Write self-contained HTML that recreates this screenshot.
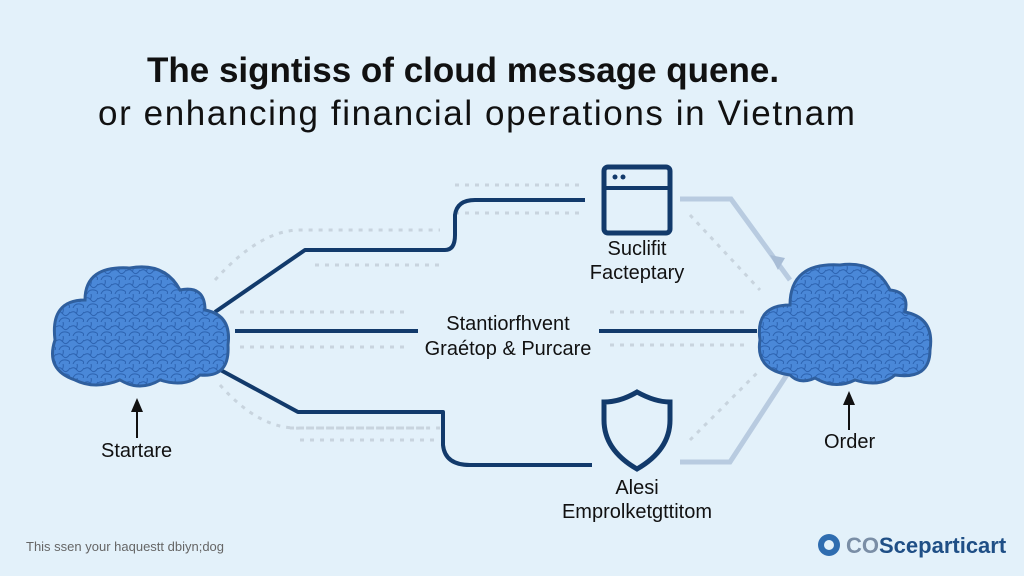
<!DOCTYPE html>
<html><head><meta charset="utf-8"><style>
html,body{margin:0;padding:0}
body{width:1024px;height:576px;background:#e3f1fa;overflow:hidden;position:relative;font-family:"Liberation Sans",sans-serif}
.t{position:absolute;white-space:nowrap;color:#111}
</style></head><body>
<svg width="1024" height="576" style="position:absolute;left:0;top:0">
<defs>
<pattern id="cr" width="14" height="14" patternUnits="userSpaceOnUse">
<rect width="14" height="14" fill="#4a88d8"/>
<path d="M0 5 Q4 2 7 6 T14 4 M3 14 Q5 9 10 10 T13 14 M7 0 Q8 3 6 6" stroke="#2d63b0" stroke-width="1" fill="none"/>
</pattern>
</defs>
<g stroke="#c8d4de" stroke-width="3" fill="none" stroke-dasharray="4 6">
<path d="M215 280 Q260 230 300 230 L440 230"/>
<path d="M315 265 L440 265"/>
<path d="M240 312 L410 312"/><path d="M240 347 L410 347"/>
<path d="M220 385 Q260 430 300 428 L440 428"/>
<path d="M290 428 L430 428"/>
<path d="M300 440 L440 440"/>
<path d="M610 312 L750 312"/><path d="M610 345 L750 345"/>
<path d="M690 215 L760 290"/><path d="M690 440 L760 370"/>
<path d="M455 185 L585 185"/><path d="M455 213 L585 213"/>
</g>
<g stroke="#123a6b" stroke-width="4" fill="none" stroke-linejoin="round">
<path d="M215 312 L305 250 L445 250 Q455 250 455 235 L455 215 Q457 200 475 200 L585 200"/>
<path d="M235 331 L418 331"/>
<path d="M599 331 L757 331"/>
<path d="M215 367 L298 412 L443 412 L443 445 Q445 465 470 465 L592 465"/>
</g>
<g stroke="#b8cbe0" stroke-width="5" fill="none">
<path d="M680 199 L731 199 L790 280"/>
<path d="M680 462 L730 462 L790 370"/>
</g>
<path d="M770 255 L785 258 L778 270Z" fill="#a8bdd6"/>
<g fill="url(#cr)" stroke="#2f5f9e" stroke-width="3">
<path d="M75 380 Q45 370 55 340 Q50 300 85 300 Q85 265 130 268 Q165 262 180 290 Q205 285 205 310 Q232 315 228 345 Q230 378 200 375 Q185 388 160 380 Q140 392 120 380 Q95 390 75 380Z"/>
<path d="M790 375 Q755 370 760 340 Q755 305 790 305 Q790 262 840 265 Q875 260 890 290 Q910 292 905 312 Q935 318 930 350 Q930 380 895 375 Q880 388 855 380 Q835 390 815 378 Q800 385 790 375Z"/>
</g>
<rect x="604" y="167" width="66" height="66" rx="4" fill="none" stroke="#123a6b" stroke-width="5"/>
<line x1="604" y1="188" x2="670" y2="188" stroke="#123a6b" stroke-width="4"/>
<circle cx="615" cy="177" r="2.5" fill="#123a6b"/><circle cx="623" cy="177" r="2.5" fill="#123a6b"/>
<path d="M637 392 Q655 402 670 402 L670 420 Q670 450 637 469 Q604 450 604 420 L604 402 Q620 402 637 392Z" fill="none" stroke="#123a6b" stroke-width="5"/>
<g stroke="#111" stroke-width="2"><line x1="137" y1="405" x2="137" y2="438"/><line x1="849" y1="398" x2="849" y2="430"/></g>
<path d="M131 412 L137 398 L143 412Z M843 405 L849 391 L855 405Z" fill="#111"/>
<circle cx="829" cy="545" r="11" fill="#2f6db0"/>
<circle cx="829" cy="545" r="5" fill="#e3f1fa"/>
</svg>
<div class="t" style="left:147px;top:51px;font-size:35px;font-weight:bold">The signtiss of cloud message quene.</div>
<div class="t" style="left:98px;top:94px;font-size:35px;letter-spacing:1.6px">or enhancing financial operations in Vietnam</div>
<div class="t" style="left:577px;top:237px;font-size:20px;width:120px;text-align:center;line-height:24px">Suclifit<br>Facteptary</div>
<div class="t" style="left:408px;top:312px;font-size:20px;width:200px;text-align:center;line-height:25px">Stantiorfhvent<br>Graétop &amp; Purcare</div>
<div class="t" style="left:537px;top:476px;font-size:20px;width:200px;text-align:center;line-height:24px">Alesi<br>Emprolketgttitom</div>
<div class="t" style="left:101px;top:440px;font-size:20px">Startare</div>
<div class="t" style="left:824px;top:431px;font-size:20px">Order</div>
<div class="t" style="left:26px;top:539px;font-size:13px;color:#666">This ssen your haquestt dbiyn;dog</div>
<div class="t" style="left:846px;top:533px;font-size:22px;font-weight:bold;color:#1f4f86"><span style="color:#7a8ea6">CO</span>Sceparticart</div>
</body></html>
